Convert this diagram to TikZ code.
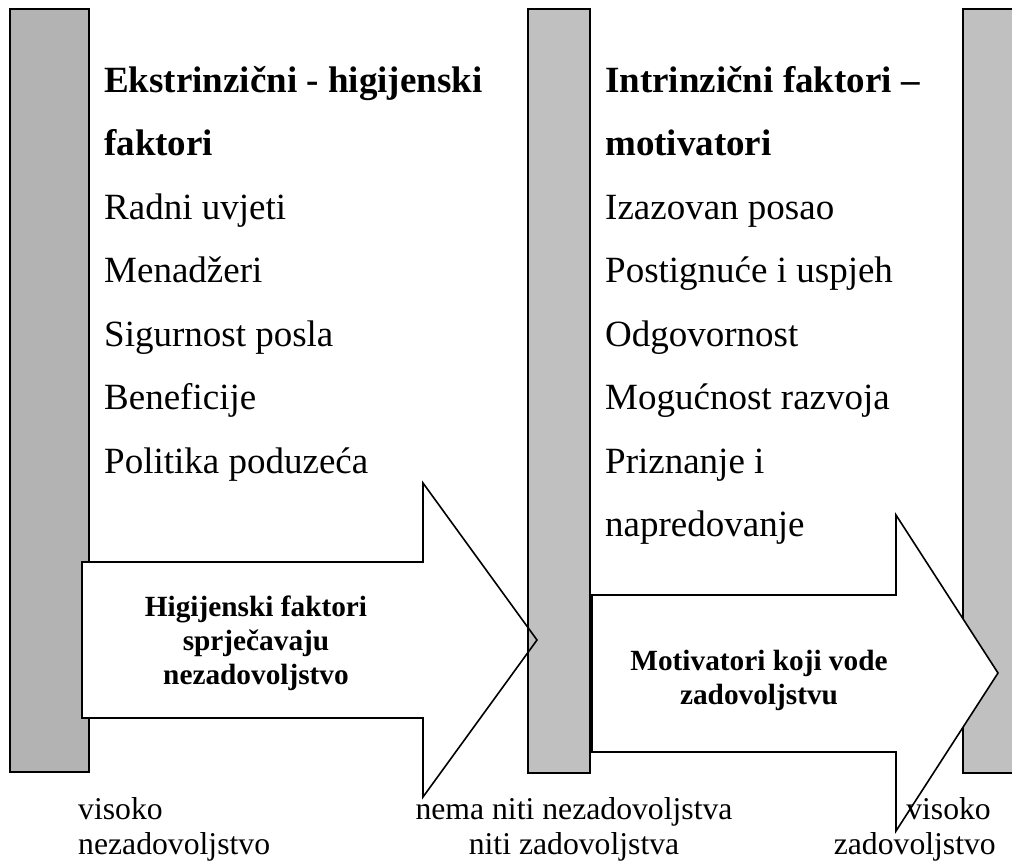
\documentclass[tikz,border=0pt]{standalone}
\usepackage{fontspec}
\setmainfont{Liberation Serif}
\definecolor{barA}{HTML}{B3B3B3}
\definecolor{barB}{HTML}{C0C0C0}
\begin{document}
\begin{tikzpicture}[x=1pt,y=-1pt,
  bar/.style={line width=2.4pt, draw=black, line join=miter},
  arr/.style={line width=1.6pt, draw=black, line join=miter},
  big/.style={font=\fontsize{37}{44}\selectfont, anchor=base west, inner sep=0pt},
  bigb/.style={font=\fontsize{37}{44}\selectfont\bfseries, anchor=base west, inner sep=0pt},
  atext/.style={font=\fontsize{29.3}{34}\selectfont\bfseries, align=center, inner sep=0pt},
  lab/.style={font=\fontsize{31.7}{37}\selectfont, inner sep=0pt}]
\useasboundingbox (0,0) rectangle (1012,865);

% left bar
\draw[bar, fill=barA] (10,9) rectangle (89,772);
% arrow 1 fill
\fill[white] (82,562) -- (423,562) -- (423,483) -- (537,640) -- (423,797) -- (423,718) -- (82,718) -- cycle;
% middle bar
\draw[bar, fill=barB] (528,9) rectangle (590,773);
% arrow 1 outline
\draw[arr] (82,562) -- (423,562) -- (423,483) -- (537,640) -- (423,797) -- (423,718) -- (82,718) -- cycle;
% right bar
\draw[bar, fill=barB] (963,9) rectangle (1030,773);
% arrow 2
\draw[arr, fill=white] (592,595) -- (896,595) -- (896,515) -- (998,673) -- (896,831) -- (896,752) -- (592,752) -- cycle;

% left column
\node[bigb] (l1) at (104,92) {Ekstrinzični - higijenski};
\node[bigb] (l2) at (104,155.5) {faktori};
\node[big] (l3) at (104,219) {Radni uvjeti};
\node[big] (l4) at (104,282.5) {Menadžeri};
\node[big] (l5) at (104,346) {Sigurnost posla};
\node[big] (l6) at (104,409.5) {Beneficije};
\node[big] (l7) at (104,473) {Politika poduzeća};

% right column
\node[bigb] (r1) at (605,92) {Intrinzični faktori –};
\node[bigb] (r2) at (605,155.5) {motivatori};
\node[big] (r3) at (605,219) {Izazovan posao};
\node[big] (r4) at (605,282.5) {Postignuće i uspjeh};
\node[big] (r5) at (605,346) {Odgovornost};
\node[big] (r6) at (605,409.5) {Mogućnost razvoja};
\node[big] (r7) at (605,473) {Priznanje i};
\node[big] (r8) at (605,536.5) {napredovanje};

% arrow texts
\node[atext] (a1) at (256,643) {Higijenski faktori\\sprječavaju\\nezadovoljstvo};
\node[atext] (a2) at (759,680) {Motivatori koji vode\\zadovoljstvu};

% bottom labels
\node[lab, anchor=base west] (b1) at (78,819) {visoko};
\node[lab, anchor=base west] (b2) at (78,854) {nezadovoljstvo};
\node[lab, anchor=base] (b3) at (574,819) {nema niti nezadovoljstva};
\node[lab, anchor=base] (b4) at (574,854) {niti zadovoljstva};
\node[lab, anchor=base east] (b5) at (991,819) {visoko};
\node[lab, anchor=base east] (b6) at (996,854) {zadovoljstvo};
\end{tikzpicture}
\end{document}
